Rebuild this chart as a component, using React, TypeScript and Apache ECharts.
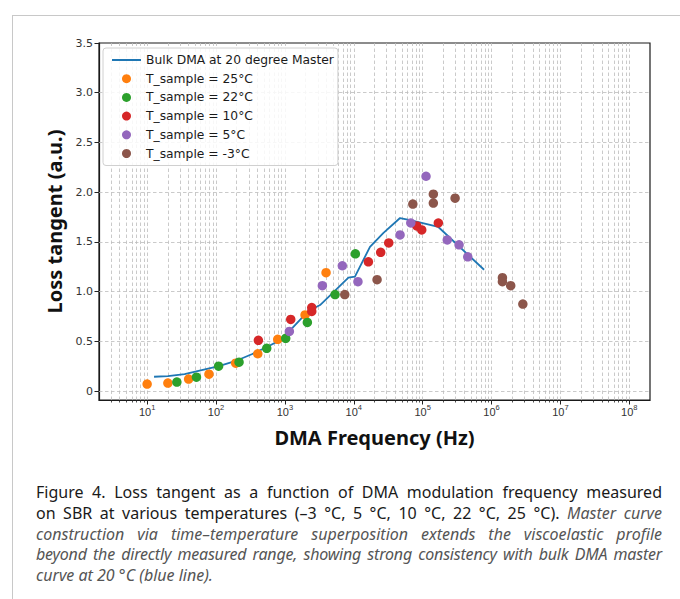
import React, { useEffect, useRef } from "react";
import * as echarts from "echarts";

// Bulk DMA master curve at 20 °C (blue line)
const masterFreq = [12.6, 20, 35, 62, 110, 189, 330, 575, 900, 1190, 1850, 2600, 3240, 5350, 8360, 10400, 17200, 27000, 47000, 66000, 169000, 780000];
const masterTan = [0.144, 0.15, 0.17, 0.21, 0.25, 0.3, 0.37, 0.45, 0.52, 0.61, 0.75, 0.83, 0.865, 1.01, 1.14, 1.15, 1.45, 1.59, 1.74, 1.72, 1.65, 1.22];

// Measured samples
const t25Freq = [10, 20, 40, 79, 193, 404, 787, 1963, 3960];
const t25Tan = [0.07, 0.08, 0.12, 0.17, 0.28, 0.375, 0.52, 0.765, 1.19];
const t22Freq = [27, 52, 109, 216, 545, 1028, 2119, 5350, 10550];
const t22Tan = [0.09, 0.14, 0.25, 0.29, 0.43, 0.53, 0.69, 0.97, 1.38];
const t10Freq = [412, 1216, 2455, 2455, 16300, 24600, 32200, 82200, 97000, 169000];
const t10Tan = [0.51, 0.72, 0.84, 0.8, 1.3, 1.395, 1.49, 1.66, 1.62, 1.69];
const t5Freq = [1161, 3500, 6820, 11500, 47000, 67300, 112000, 228000, 338000, 452000];
const t5Tan = [0.6, 1.06, 1.26, 1.1, 1.57, 1.69, 2.16, 1.52, 1.47, 1.35];
const tm3Freq = [7400, 21800, 72000, 143000, 143000, 296000, 1440000, 1440000, 1900000, 2850000];
const tm3Tan = [0.97, 1.12, 1.88, 1.98, 1.89, 1.94, 1.14, 1.1, 1.06, 0.875];

const seriesNames = [
  "Bulk DMA at 20 degree Master",
  "T_sample = 25°C",
  "T_sample = 22°C",
  "T_sample = 10°C",
  "T_sample = 5°C",
  "T_sample = -3°C",
];
const seriesColors = ["#1f77b4", "#ff7f0e", "#2ca02c", "#d62728", "#9467bd", "#8c564b"];

// Axis ticks
const xMajorTicks = [10, 100, 1000, 1e4, 1e5, 1e6, 1e7, 1e8];
const yTicks = [0, 0.5, 1, 1.5, 2, 2.5, 3, 3.5];
const xMin = 2;
const xMax = 2e8;
const yMin = -0.09;
const yMax = 3.5;

const zip = (xs: number[], ys: number[]) => xs.map((x, i) => [x, ys[i]]);

export default function App() {
  const ref = useRef<HTMLDivElement>(null);

  useEffect(() => {
    if (!ref.current) return;
    const chart = echarts.init(ref.current, null, { renderer: "svg" });

    const minorX: number[] = [];
    for (let e = 0; e <= 8; e++) {
      for (let m = 2; m <= 9; m++) {
        const v = m * Math.pow(10, e);
        if (v > xMin && v < xMax) minorX.push(v);
      }
    }
    const vGrid = [...xMajorTicks, ...minorX];
    const hGrid = yTicks.filter((v) => v < yMax);

    const gridLineStyle = { color: "#bdbdbd", width: 0.8, type: [3.5, 2.5] as any };

    const scatterSets = [
      [t25Freq, t25Tan],
      [t22Freq, t22Tan],
      [t10Freq, t10Tan],
      [t5Freq, t5Tan],
      [tm3Freq, tm3Tan],
    ];

    chart.setOption({
      animation: false,
      backgroundColor: "transparent",
      grid: {
        left: 99,
        top: 43,
        width: 551,
        height: 357,
        show: true,
        borderColor: "#1a1a1a",
        borderWidth: 1.2,
        backgroundColor: "transparent",
        outerBoundsMode: "none",
      },
      legend: {
        orient: "vertical",
        left: 103,
        top: 48,
        itemWidth: 29,
        itemHeight: 9,
        itemGap: 4.7,
        padding: [5, 4, 5, 8],
        borderColor: "#d0d0d0",
        borderWidth: 1,
        borderRadius: 3,
        backgroundColor: "rgba(255,255,255,0.85)",
        selectedMode: false,
        textStyle: { fontFamily: "DejaVu Sans", fontSize: 12.3, color: "#1a1a1a", lineHeight: 14 },
        data: seriesNames.map((n, i) =>
          i === 0
            ? { name: n, itemStyle: { opacity: 0, borderWidth: 0 } }
            : { name: n, icon: "circle" }
        ),
      },
      xAxis: [
        {
          type: "log",
          logBase: 10,
          min: xMin,
          max: xMax,
          position: "bottom",
          axisLine: { show: true, onZero: false, lineStyle: { color: "#1a1a1a", width: 1.2 } },
          axisTick: { show: true, customValues: xMajorTicks, length: 4.5, lineStyle: { color: "#222" } },
          axisLabel: {
            customValues: xMajorTicks,
            margin: 3,
            formatter: (v: number) => `{a|10}{b|${Math.round(Math.log10(v))}}`,
            rich: {
              a: { fontFamily: "Liberation Sans", fontSize: 11, color: "#333", lineHeight: 14, verticalAlign: "bottom" },
              b: { fontFamily: "Liberation Sans", fontSize: 7.5, color: "#333", lineHeight: 9, verticalAlign: "top" },
            },
          },
          splitLine: { show: false },
          minorTick: { show: false },
          name: "DMA Frequency (Hz)",
          nameLocation: "middle",
          nameGap: 27,
          nameTextStyle: { fontFamily: "Noto Sans", fontWeight: "bold", fontSize: 20, color: "#111" },
        },
        {
          type: "log",
          logBase: 10,
          min: xMin,
          max: xMax,
          position: "bottom",
          axisLine: { show: false, onZero: false },
          axisTick: { show: true, customValues: minorX, length: 2.5, lineStyle: { color: "#222", width: 0.8 } },
          axisLabel: { show: false },
          splitLine: { show: false },
        },
      ],
      yAxis: {
        type: "value",
        min: yMin,
        max: yMax,
        axisLine: { show: true, onZero: false, lineStyle: { color: "#1a1a1a", width: 1.2 } },
        axisTick: { show: true, customValues: yTicks, length: 4.5, lineStyle: { color: "#222" } },
        axisLabel: {
          customValues: yTicks,
          margin: 6,
          fontSize: 11,
          fontFamily: "DejaVu Sans",
          color: "#333",
          formatter: (v: number) => (v === 0 ? "0" : v.toFixed(1)),
        },
        splitLine: { show: false },
        name: "Loss tangent (a.u.)",
        nameLocation: "middle",
        nameGap: 32,
        nameRotate: 90,
        nameTextStyle: { fontFamily: "Noto Sans", fontWeight: "bold", fontSize: 20, color: "#111" },
      },
      series: [
        {
          name: seriesNames[0],
          type: "line",
          xAxisIndex: 0,
          yAxisIndex: 0,
          data: zip(masterFreq, masterTan),
          symbol: "none",
          showSymbol: false,
          lineStyle: { color: seriesColors[0], width: 1.8 },
          itemStyle: { color: seriesColors[0] },
          z: 2,
          markLine: {
            silent: true,
            z: 1,
            symbol: ["none", "none"],
            label: { show: false },
            lineStyle: gridLineStyle,
            emphasis: { disabled: true },
            data: [...vGrid.map((v) => ({ xAxis: v })), ...hGrid.map((v) => ({ yAxis: v }))],
          },
        },
        ...scatterSets.map((s, i) => ({
          name: seriesNames[i + 1],
          type: "scatter",
          xAxisIndex: 0,
          yAxisIndex: 0,
          data: zip(s[0], s[1]),
          symbol: "circle",
          symbolSize: 9.5,
          itemStyle: { color: seriesColors[i + 1], opacity: 1 },
          z: 3,
        })),
      ],
    });

    return () => chart.dispose();
  }, []);

  const normal: React.CSSProperties = { color: "#1a1a1a", fontStyle: "normal" };
  const italic: React.CSSProperties = { color: "#555", fontStyle: "italic" };
  const lineStyle: React.CSSProperties = {
    textAlign: "justify",
    textAlignLast: "justify" as any,
    height: 20.8,
    lineHeight: "20.8px",
    whiteSpace: "nowrap",
  };

  return (
    <div
      style={{
        position: "absolute",
        left: 0,
        top: 0,
        width: 680,
        height: 599,
        overflow: "hidden",
        background: "#fff",
      }}
    >
      <div
        style={{
          position: "absolute",
          left: 12,
          top: 15,
          width: 700,
          height: 620,
          border: "1px solid #c8c8c8",
          boxSizing: "border-box",
        }}
      />
      <div ref={ref} style={{ position: "absolute", left: 0, top: 0, width: 680, height: 470 }} />
      <div
        style={{
          position: "absolute",
          left: 36,
          top: 482,
          width: 626,
          fontFamily: "'Noto Sans', sans-serif",
          fontSize: 16,
        }}
      >
        <div style={lineStyle}>
          <span style={normal}>Figure 4. Loss tangent as a function of DMA modulation frequency measured</span>
        </div>
        <div style={lineStyle}>
          <span style={normal}>on SBR at various temperatures (–3 °C, 5 °C, 10 °C, 22 °C, 25 °C). </span>
          <span style={italic}>Master curve</span>
        </div>
        <div style={lineStyle}>
          <span style={italic}>construction via time–temperature superposition extends the viscoelastic profile</span>
        </div>
        <div style={{ ...lineStyle, letterSpacing: -0.2 }}>
          <span style={italic}>beyond the directly measured range, showing strong consistency with bulk DMA master</span>
        </div>
        <div style={{ ...lineStyle, textAlignLast: "left" as any }}>
          <span style={italic}>curve at 20 °C (blue line).</span>
        </div>
      </div>
    </div>
  );
}
